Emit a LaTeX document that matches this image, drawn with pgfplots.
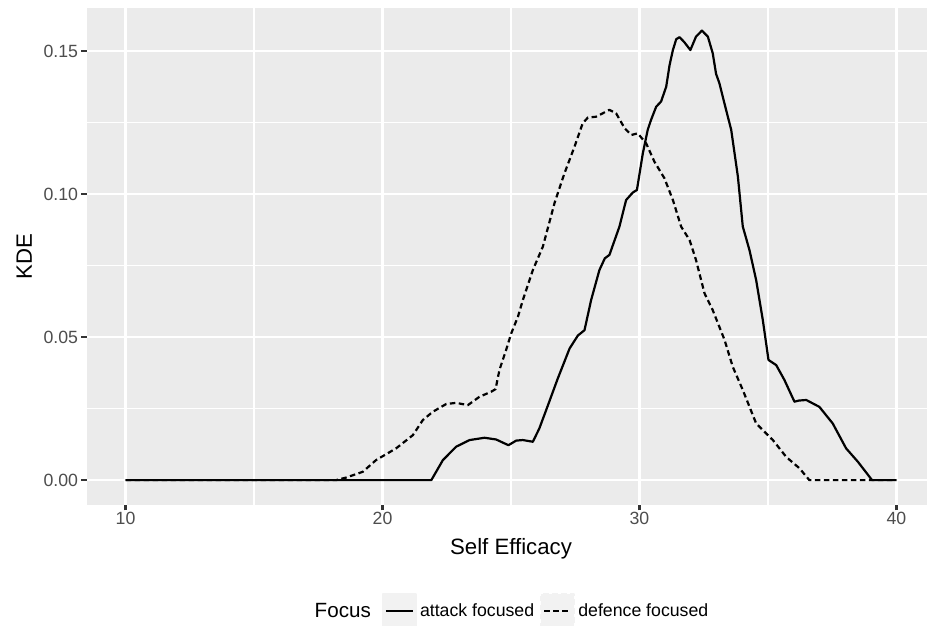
\documentclass[border=0pt]{standalone}
\usepackage{pgfplots}
\pgfplotsset{compat=1.18}
\usepackage{fontspec}
\setmainfont{Liberation Sans}
\definecolor{panelbg}{HTML}{EBEBEB}
\definecolor{tickgray}{HTML}{333333}
\definecolor{labelgray}{HTML}{4D4D4D}
\definecolor{keybg}{HTML}{F2F2F2}
\newcommand{\tickfont}{\fontsize{17.7}{20}\selectfont}
\newcommand{\titlefont}{\fontsize{22.2}{26}\selectfont}
\newcommand{\legtitlefont}{\fontsize{20.6}{24}\selectfont}
\begin{document}
\begin{tikzpicture}
\path[use as bounding box] (0,0) rectangle (927pt,626pt);
\clip (0,0) rectangle (927pt,626pt);
\begin{axis}[
  at={(87pt,121pt)}, anchor=south west,
  scale only axis, width=848pt, height=497pt,
  xmin=8.5, xmax=41.5, ymin=-0.0087, ymax=0.165,
  axis background/.style={fill=panelbg},
  axis line style={draw=none},
  xtick={10,20,30,40}, ytick={0,0.05,0.1,0.15},
  minor xtick={15,25,35}, minor ytick={0.025,0.075,0.125},
  grid=both,
  major grid style={white, line width=2.1pt},
  minor grid style={white, line width=1.1pt},
  tick align=outside, xtick pos=left, ytick pos=left,
  major tick length=5.5pt, minor tick length=0pt,
  major tick style={tickgray, line width=2.1pt},
  scaled y ticks=false,
  /pgf/number format/assume math mode=true,
  yticklabel style={/pgf/number format/fixed, /pgf/number format/fixed zerofill, /pgf/number format/precision=2},
  xticklabel style={yshift=2pt},
  ticklabel style={font=\tickfont, text=labelgray},
  xlabel={Self Efficacy}, ylabel={KDE},
  label style={font=\titlefont},
  xlabel style={at={(axis description cs:0.5,-0.0986)}, anchor=base},
  ylabel style={at={(axis description cs:-0.0649,0.5)}, anchor=base},
  legend style={at={(0.5,-0.2133)}, anchor=center, draw=none, fill=none, font=\tickfont,
    legend columns=-1,
    /tikz/every even column/.style={column sep=4pt},
    /tikz/every odd column/.style={column sep=1pt}},
  legend image code/.code={\fill[keybg] (0pt,-17pt) rectangle (33pt,17pt); \draw[#1] (3pt,0pt) -- (30pt,0pt);},
]
\addlegendimage{empty legend}
\addlegendentry{\legtitlefont Focus\hspace*{5pt}}
\addplot[black, line width=2.2pt, line join=round] coordinates {
(10,0) (21.9,0) (22.35,0.007) (22.87,0.0117) (23.39,0.014) (23.97,0.0148) (24.42,0.0142) (24.9,0.0122) (25.2,0.0138) (25.46,0.014) (25.85,0.0134) (26.1,0.018) (26.37,0.0245) (26.82,0.0355) (27.28,0.046) (27.6,0.0505) (27.86,0.0524) (28.12,0.063) (28.44,0.0734) (28.65,0.0775) (28.83,0.0787) (29.22,0.0886) (29.48,0.0979) (29.74,0.1005) (29.9,0.1014) (30.13,0.1142) (30.32,0.1224) (30.45,0.1259) (30.65,0.1305) (30.84,0.1323) (31.04,0.1375) (31.17,0.1450) (31.3,0.1503) (31.43,0.1541) (31.56,0.1548) (31.75,0.1530) (31.98,0.1503) (32.2,0.1550) (32.43,0.1571) (32.66,0.1550) (32.85,0.1492) (32.98,0.1420) (33.11,0.1387) (33.37,0.1294) (33.57,0.1224) (33.83,0.1060) (34.02,0.0886) (34.28,0.0804) (34.54,0.0699) (34.8,0.0559) (35.02,0.0420) (35.32,0.0402) (35.64,0.0350) (36.03,0.0274) (36.2,0.0278) (36.49,0.0280) (37.0,0.0256) (37.52,0.0198) (38.04,0.0111) (38.5,0.0064) (39.05,0) (40,0)
};
\addlegendentry{attack focused}
\addplot[black, line width=2.2pt, line join=round, dash pattern=on 5.5pt off 3.5pt] coordinates {
(10,0) (18.2,0) (18.59,0.0009) (19.23,0.0029) (19.75,0.007) (20.53,0.0111) (21.18,0.0157) (21.57,0.021) (21.96,0.0239) (22.48,0.0266) (22.87,0.027) (23.32,0.0262) (23.77,0.0291) (24.23,0.0309) (24.4,0.0318) (24.55,0.0385) (24.81,0.0455) (25.01,0.0513) (25.27,0.0571) (25.46,0.0629) (25.85,0.0734) (26.24,0.0816) (26.69,0.0967) (27.08,0.1072) (27.47,0.1165) (27.79,0.1247) (27.99,0.1267) (28.31,0.127) (28.83,0.1294) (29.09,0.1282) (29.42,0.123) (29.68,0.1206) (29.93,0.1212) (30.26,0.1177) (30.58,0.1113) (30.97,0.1055) (31.3,0.0979) (31.62,0.0886) (31.95,0.0839) (32.2,0.0769) (32.53,0.0653) (32.85,0.0594) (33.31,0.049) (33.63,0.0396) (34.02,0.0315) (34.54,0.0198) (35.19,0.014) (35.71,0.0081) (36.23,0.0041) (36.61,0) (40,0)
};
\addlegendentry{defence focused}
\end{axis}
\end{tikzpicture}
\end{document}
